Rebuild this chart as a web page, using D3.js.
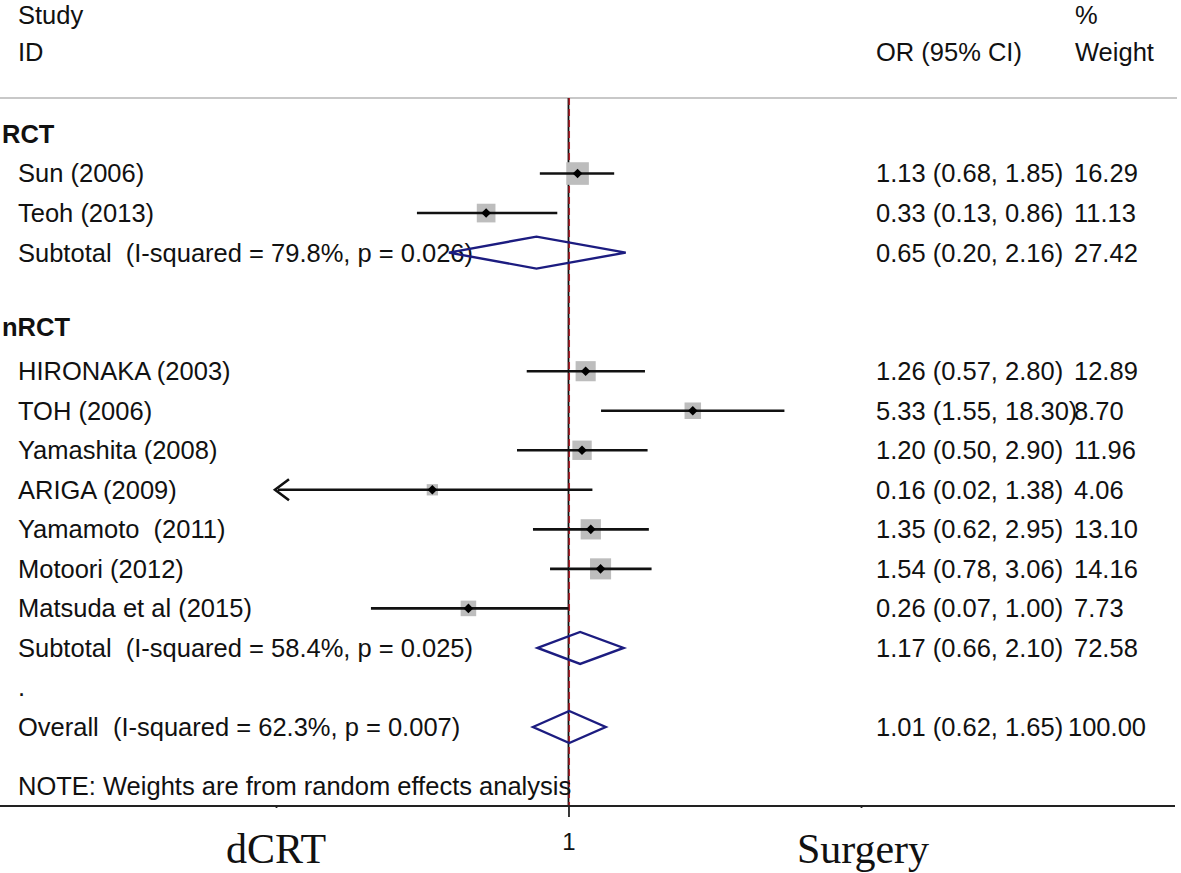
<!DOCTYPE html>
<html>
<head>
<meta charset="utf-8">
<script src="https://cdn.jsdelivr.net/npm/d3@7"></script>
<style>
  html, body { margin: 0; padding: 0; background: #fff; }
  svg { display: block; }
  text { white-space: pre; }
</style>
</head>
<body>
<svg id="chart" width="1181" height="873" font-family="'Liberation Sans', Arial, sans-serif"></svg>
<script>
// ---- Data ----
const rowLabels = [
  "RCT",
  "Sun (2006)",
  "Teoh (2013)",
  "Subtotal  (I-squared = 79.8%, p = 0.026)",
  "",
  "nRCT",
  "HIRONAKA (2003)",
  "TOH (2006)",
  "Yamashita (2008)",
  "ARIGA (2009)",
  "Yamamoto  (2011)",
  "Motoori (2012)",
  "Matsuda et al (2015)",
  "Subtotal  (I-squared = 58.4%, p = 0.025)",
  ".",
  "Overall  (I-squared = 62.3%, p = 0.007)"
];
const rowKinds = ["group","study","study","pooled","blank","group","study","study","study","study","study","study","study","pooled","blank","pooled"];
const oddsRatios = [null,1.13,0.33,0.65,null,null,1.26,5.33,1.20,0.16,1.35,1.54,0.26,1.17,null,1.01];
const ciLower    = [null,0.68,0.13,0.20,null,null,0.57,1.55,0.50,0.02,0.62,0.78,0.07,0.66,null,0.62];
const ciUpper    = [null,1.85,0.86,2.16,null,null,2.80,18.30,2.90,1.38,2.95,3.06,1.00,2.10,null,1.65];
const weights    = [null,16.29,11.13,27.42,null,null,12.89,8.70,11.96,4.06,13.10,14.16,7.73,72.58,null,100.00];
const axisDomain = [0.0195, 51.3];
const axisTicks  = [0.0195, 1, 51.3];
const axisTickLabels = ["", "1", ""];
const leftSideLabel = "dCRT";
const rightSideLabel = "Surgery";
const noteText = "NOTE: Weights are from random effects analysis";
const overallEstimate = 1.01;

// ---- Layout ----
const svg = d3.select("#chart");
const fs = 25.5;
const x = d3.scaleLog().domain(axisDomain).range([276, 861]);
const y = d3.scaleLinear().domain([0, 15]).range([134, 727]);
const axisY = 806;
const headerLineY = 98;
const fmt = d3.format(".2f");
const sqSide = d3.scaleSqrt().domain([0, 100]).range([0, 56]);
const serif = "'Liberation Serif', 'Times New Roman', serif";
const sans = "'Liberation Sans', Arial, sans-serif";

// header
const hdr = svg.append("g").attr("font-size", fs).attr("fill", "#111");
hdr.append("text").attr("x", 18).attr("y", 15).attr("dy", "0.35em").text("Study");
hdr.append("text").attr("x", 18).attr("y", 52).attr("dy", "0.35em").text("ID");
hdr.append("text").attr("x", 1075).attr("y", 15).attr("dy", "0.35em").text("%");
hdr.append("text").attr("x", 876).attr("y", 52).attr("dy", "0.35em").text("OR (95% CI)");
hdr.append("text").attr("x", 1075).attr("y", 52).attr("dy", "0.35em").text("Weight");

svg.append("line").attr("x1", 0).attr("x2", 1177).attr("y1", headerLineY).attr("y2", headerLineY)
  .attr("stroke", "#c8c8c8").attr("stroke-width", 2);

// null line (OR = 1)
svg.append("line").attr("x1", x(1)).attr("x2", x(1)).attr("y1", headerLineY).attr("y2", axisY)
  .attr("stroke", "#111").attr("stroke-width", 1.8);
// overall estimate line
svg.append("line").attr("x1", x(overallEstimate)).attr("x2", x(overallEstimate)).attr("y1", headerLineY).attr("y2", axisY)
  .attr("stroke", "#b0202a").attr("stroke-width", 1.6).attr("stroke-dasharray", "7,4");

// rows
const rows = rowLabels.map((label, i) => ({
  label, kind: rowKinds[i], or: oddsRatios[i], lo: ciLower[i], hi: ciUpper[i], w: weights[i], i
}));
const rowY = d => y(d.i) + (d.kind === "group" && d.i > 0 ? -5 : 0);

// labels
svg.append("g").selectAll("text").data(rows).join("text")
  .attr("x", d => d.kind === "group" ? 2 : 18)
  .attr("y", rowY)
  .attr("dy", "0.35em")
  .attr("font-size", fs)
  .attr("font-weight", d => d.kind === "group" ? "bold" : "normal")
  .attr("fill", "#111")
  .text(d => d.label);

// OR column and weight
const est = rows.filter(d => d.or != null);
svg.append("g").selectAll("text").data(est).join("text")
  .attr("x", 876).attr("y", d => y(d.i)).attr("dy", "0.35em")
  .attr("font-size", fs).attr("fill", "#111")
  .text(d => `${fmt(d.or)} (${fmt(d.lo)}, ${fmt(d.hi)})`);
svg.append("g").selectAll("text").data(est).join("text")
  .attr("x", d => d.w >= 100 ? 1068 : 1074).attr("y", d => y(d.i)).attr("dy", "0.35em")
  .attr("font-size", fs).attr("fill", "#111")
  .text(d => fmt(d.w));

// studies
const studies = rows.filter(d => d.kind === "study");
const sg = svg.append("g");
sg.selectAll("rect").data(studies).join("rect")
  .attr("x", d => x(d.or) - sqSide(d.w) / 2)
  .attr("y", d => y(d.i) - sqSide(d.w) / 2)
  .attr("width", d => sqSide(d.w))
  .attr("height", d => sqSide(d.w))
  .attr("fill", "#bdbdbd");
sg.selectAll("line.ci").data(studies).join("line").attr("class", "ci")
  .attr("x1", d => x(Math.max(d.lo, axisDomain[0])))
  .attr("x2", d => x(Math.min(d.hi, axisDomain[1])))
  .attr("y1", d => y(d.i)).attr("y2", d => y(d.i))
  .attr("stroke", "#111").attr("stroke-width", 2.6);
sg.selectAll("path.arrow").data(studies.filter(d => d.lo < 0.021)).join("path").attr("class", "arrow")
  .attr("d", d => {
    const x0 = x(axisDomain[0]) - 1, yy = y(d.i);
    return `M${x0 + 14},${yy - 10.5} L${x0},${yy} L${x0 + 14},${yy + 10.5}`;
  })
  .attr("fill", "none").attr("stroke", "#111").attr("stroke-width", 2.6);
sg.selectAll("path.pt").data(studies).join("path").attr("class", "pt")
  .attr("d", d => {
    const cx = x(d.or), cy = y(d.i), r = 4.8;
    return `M${cx - r},${cy} L${cx},${cy - r} L${cx + r},${cy} L${cx},${cy + r} Z`;
  })
  .attr("fill", "#000");

// pooled diamonds
const pooled = rows.filter(d => d.kind === "pooled");
svg.append("g").selectAll("path").data(pooled).join("path")
  .attr("d", d => {
    const cy = y(d.i), h = 16;
    return `M${x(d.lo)},${cy} L${x(d.or)},${cy - h} L${x(d.hi)},${cy} L${x(d.or)},${cy + h} Z`;
  })
  .attr("fill", "none").attr("stroke", "#1c1c80").attr("stroke-width", 2.4);

// note
svg.append("text").attr("x", 18).attr("y", y(16.5)).attr("dy", "0.35em")
  .attr("font-size", fs).attr("fill", "#111").text(noteText);

// axis line across full width
svg.append("line").attr("x1", 0).attr("x2", 1175).attr("y1", axisY).attr("y2", axisY)
  .attr("stroke", "#222").attr("stroke-width", 2);

// axis via d3
const axis = d3.axisBottom(x).tickValues(axisTicks).tickFormat((d, i) => axisTickLabels[i]).tickSize(10).tickPadding(17);
const ag = svg.append("g").attr("transform", `translate(0,${axisY})`).call(axis);
ag.select(".domain").remove();
ag.selectAll(".tick line").attr("stroke", "#222").attr("stroke-width", 1.8)
  .attr("y2", (d, i) => axisTickLabels[i] === "" ? 2 : 11);
ag.selectAll(".tick text").attr("font-size", 24).attr("fill", "#111").style("font-family", sans);

// side labels
svg.append("text").attr("x", 276).attr("y", 863).attr("text-anchor", "middle")
  .style("font-family", serif).attr("font-size", 42).attr("fill", "#111")
  .text(leftSideLabel);
svg.append("text").attr("x", 863).attr("y", 863).attr("text-anchor", "middle")
  .style("font-family", serif).attr("font-size", 42).attr("fill", "#111")
  .text(rightSideLabel);
</script>
</body>
</html>
